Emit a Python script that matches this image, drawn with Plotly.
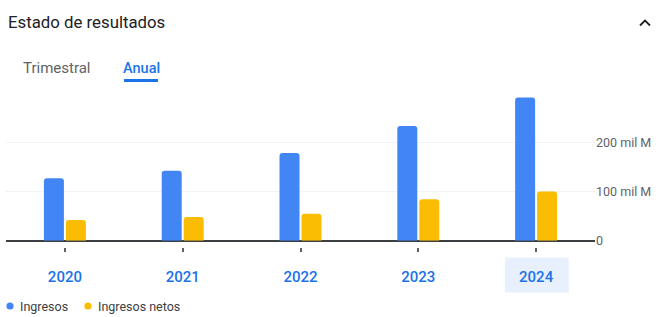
import plotly.graph_objects as go

# ---- data ----
years = ["2020", "2021", "2022", "2023", "2024"]
ingresos = [127, 142, 178, 233, 291]
ingresos_netos = [42, 48, 55, 84, 100]
series_names = ["Ingresos", "Ingresos netos"]
y_tick_vals = [0, 100, 200]
y_tick_text = ["0", "100 mil M", "200 mil M"]

W, H = 662, 317
BLUE = "#4285f4"
YELLOW = "#fbbc04"
LINK = "#1a73e8"
FONT = "Roboto"


def px(x):
    return x / W


def py(y):
    return 1 - y / H


fig = go.Figure()
fig.add_trace(go.Bar(x=years, y=ingresos, name=series_names[0],
                     marker=dict(color=BLUE, line=dict(width=0)), showlegend=False))
fig.add_trace(go.Bar(x=years, y=ingresos_netos, name=series_names[1],
                     marker=dict(color=YELLOW, line=dict(width=0)), showlegend=False))

zero_px, per100 = 240.7, 49.2
top_px = 90
y_max = (zero_px - top_px) / per100 * 100

fig.update_layout(
    width=W, height=H,
    margin=dict(l=0, r=0, t=0, b=0, pad=0, autoexpand=False),
    paper_bgcolor="white", plot_bgcolor="white",
    barmode="group", bargap=0.627, bargroupgap=0.09, barcornerradius=3,
    font=dict(family=FONT),
    xaxis=dict(
        type="category", domain=[px(6), px(595)],
        anchor="free", position=py(246.5), automargin=False,
        showline=False, showgrid=False, zeroline=False,
        ticks="outside", ticklen=4, tickwidth=2, tickcolor="#5f6368",
        tickfont=dict(family=FONT, size=15, color=LINK, weight=500),
        ticklabelstandoff=12,
    ),
    yaxis=dict(
        domain=[py(zero_px), py(top_px)], range=[0, y_max], automargin=False,
        side="right", tickvals=y_tick_vals, ticktext=y_tick_text,
        showgrid=True, gridcolor="#f1f3f4", gridwidth=1,
        zeroline=True, zerolinecolor="#3c4043", zerolinewidth=1.5,
        showline=False, ticks="",
        tickfont=dict(family=FONT, size=12.5, color="#5f6368"),
    ),
    showlegend=False,
)

# highlighted selected year (2024)
sel = years.index("2024")
fig.add_shape(type="rect", xref="x", yref="paper",
              x0=sel - 0.265, x1=sel + 0.277, y0=py(292.5), y1=py(257.5),
              fillcolor="#e8f0fe", line=dict(width=0), layer="below")

# title, collapse chevron, tabs
fig.add_annotation(text="Estado de resultados", xref="paper", yref="paper",
                   x=px(6), y=py(22), xanchor="left", yanchor="middle", showarrow=False,
                   font=dict(family=FONT, size=16.8, color="#202124"))
fig.add_shape(type="path", xref="paper", yref="paper",
              path=f"M {px(640)} {py(25.5)} L {px(645)} {py(20.5)} L {px(650)} {py(25.5)}",
              line=dict(color="#202124", width=1.8))
fig.add_annotation(text="Trimestral", xref="paper", yref="paper",
                   x=px(21), y=py(68), xanchor="left", yanchor="middle", showarrow=False,
                   font=dict(family=FONT, size=15, color="#5f6368"))
fig.add_annotation(text="Anual", xref="paper", yref="paper",
                   x=px(121), y=py(68), xanchor="left", yanchor="middle", showarrow=False,
                   font=dict(family=FONT, size=14.5, color=LINK, weight=500))
fig.add_shape(type="rect", xref="paper", yref="paper",
              x0=px(124), x1=px(158), y0=py(82), y1=py(79),
              fillcolor=LINK, line=dict(width=0))

# legend
legend_items = [(series_names[0], BLUE, 10), (series_names[1], YELLOW, 88)]
for name, col, cx in legend_items:
    r = 3.6
    fig.add_shape(type="circle", xref="paper", yref="paper",
                  x0=px(cx - r), x1=px(cx + r), y0=py(306 + r), y1=py(306 - r),
                  fillcolor=col, line=dict(width=0))
    fig.add_annotation(text=name, xref="paper", yref="paper",
                       x=px(cx + 8), y=py(306), xanchor="left", yanchor="middle",
                       showarrow=False, font=dict(family=FONT, size=12.5, color="#3c4043"))

fig.write_html("out.html", config={"displayModeBar": False})
